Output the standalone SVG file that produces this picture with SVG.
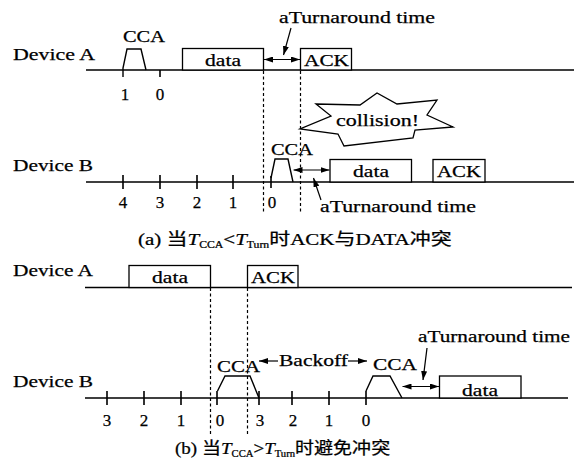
<svg xmlns="http://www.w3.org/2000/svg" width="580" height="462" viewBox="0 0 580 462">
<style>
.t{font-family:"Liberation Serif","Noto Sans CJK SC",serif;font-size:17px;fill:#000;stroke:#000;stroke-width:0.25}
.n{font-family:"Liberation Serif",serif;font-size:17px;fill:#000;stroke:#000;stroke-width:0.25;text-anchor:middle}
.ln{stroke:#000;stroke-width:1.6;fill:none}
.bx{stroke:#000;stroke-width:1.3;fill:#fff}
.pl{stroke:#000;stroke-width:1.4;fill:none;stroke-linejoin:miter}
.ds{stroke:#000;stroke-width:1.2;stroke-dasharray:3 2.5;fill:none}
.ar{stroke:#000;stroke-width:1.2;fill:none}
</style>
<defs>
<marker id="ah" viewBox="0 0 9 6" refX="9" refY="3" markerWidth="9" markerHeight="6" markerUnits="userSpaceOnUse" orient="auto-start-reverse"><path d="M0,0 L9,3 L0,6 z" fill="#000"/></marker>
</defs>

<!-- timelines and ticks -->
<g id="timelines">
<path class="ln" d="M86,70H574 M86,182H574 M85,287.5H572 M85,398H568"/>
<path class="ln" d="M160,70V77 M123,175V189 M160,175V189 M197,175V189 M233,175V189 M271,176V188
M107,391V405 M144,391V405 M181,391V405 M217,391V405 M259,391V405 M292,391V405 M329,391V405 M366,391V405"/>
</g>

<g id="dashes">
<path class="ds" d="M263.5,71V212 M300.5,71V212 M210.5,288V435 M247.5,288V434"/>
</g>

<!-- (a) -->
<g id="a-devA-label"><text class="t" x="13" y="60" textLength="82" lengthAdjust="spacingAndGlyphs">Device A</text></g>
<g id="a-A-cca">
<path class="pl" d="M123,77V68L127,49H141L146,70"/>
<text class="t" x="123" y="41.5" textLength="42" lengthAdjust="spacingAndGlyphs">CCA</text>
<text class="n" x="125" y="100">1</text>
<text class="n" x="160" y="100">0</text>
</g>
<g id="a-A-data"><rect class="bx" x="182.5" y="48.5" width="81" height="21.5"/><text class="t" x="205" y="66" textLength="36" lengthAdjust="spacingAndGlyphs">data</text></g>
<g id="a-A-ack"><rect class="bx" x="300.5" y="48.5" width="51" height="21.5"/><text class="t" x="304" y="65.5" textLength="45" lengthAdjust="spacingAndGlyphs">ACK</text></g>
<g id="a-turn-top"><text class="t" x="279" y="22.5" textLength="156" lengthAdjust="spacingAndGlyphs">aTurnaround time</text></g>
<g id="a-collision">
<polygon class="bx" points="316,104 360,105 377,93 397,104 437,100 427,115 453,127 415,130 413,138 344,146 338,134 300,129 331,116"/>
<text class="t" x="336" y="126" textLength="83" lengthAdjust="spacingAndGlyphs">collision!</text>
</g>
<g id="a-devB-label"><text class="t" x="13" y="171" textLength="80" lengthAdjust="spacingAndGlyphs">Device B</text></g>
<g id="a-B-nums">
<text class="n" x="123" y="208">4</text><text class="n" x="160" y="208">3</text><text class="n" x="197" y="208">2</text><text class="n" x="233" y="208">1</text><text class="n" x="272" y="208">0</text>
</g>
<g id="a-B-cca">
<path class="pl" d="M271,178L275,159H288L293,182"/>
<text class="t" x="271" y="155" textLength="42" lengthAdjust="spacingAndGlyphs">CCA</text>
</g>
<g id="a-B-data"><rect class="bx" x="330" y="159.5" width="81.5" height="22.5"/><text class="t" x="353" y="177" textLength="36" lengthAdjust="spacingAndGlyphs">data</text></g>
<g id="a-B-ack"><rect class="bx" x="433" y="159.5" width="52" height="22.5"/><text class="t" x="437" y="177" textLength="44" lengthAdjust="spacingAndGlyphs">ACK</text></g>
<g id="a-turn-bot"><text class="t" x="320" y="211.5" textLength="156" lengthAdjust="spacingAndGlyphs">aTurnaround time</text></g>
<g id="cap-a">
<text class="t" transform="translate(138,245) scale(1.235,1)">(a) 当<tspan font-style="italic">T</tspan><tspan font-size="9.5" dy="2.5">CCA</tspan><tspan dy="-2.5">&lt;</tspan><tspan font-style="italic">T</tspan><tspan font-size="9.5" dy="2.5">Turn</tspan><tspan dy="-2.5">时ACK与DATA冲突</tspan></text>
</g>

<!-- (b) -->
<g id="b-devA-label"><text class="t" x="13" y="276" textLength="80" lengthAdjust="spacingAndGlyphs">Device A</text></g>
<g id="b-A-data"><rect class="bx" x="129" y="265.5" width="81.5" height="22"/><text class="t" x="152" y="283" textLength="36" lengthAdjust="spacingAndGlyphs">data</text></g>
<g id="b-A-ack"><rect class="bx" x="247.5" y="265.5" width="50.5" height="22"/><text class="t" x="251" y="283" textLength="44" lengthAdjust="spacingAndGlyphs">ACK</text></g>
<g id="b-devB-label"><text class="t" x="13" y="387" textLength="80" lengthAdjust="spacingAndGlyphs">Device B</text></g>
<g id="b-B-cca1">
<path class="pl" d="M217.5,391L225,376H250L259,398"/>
<text class="t" x="217" y="372" textLength="43" lengthAdjust="spacingAndGlyphs">CCA</text>
</g>
<g id="b-backoff"><text class="t" x="279" y="366" textLength="69" lengthAdjust="spacingAndGlyphs">Backoff</text></g>
<g id="b-B-cca2">
<path class="pl" d="M366,391L373,376H390L402,398"/>
<text class="t" x="373" y="370" textLength="44" lengthAdjust="spacingAndGlyphs">CCA</text>
</g>
<g id="b-turn"><text class="t" x="418" y="342" textLength="152" lengthAdjust="spacingAndGlyphs">aTurnaround time</text></g>
<g id="b-B-data"><rect class="bx" x="439.5" y="376" width="81.5" height="22"/><text class="t" x="462" y="396" textLength="36" lengthAdjust="spacingAndGlyphs">data</text></g>
<g id="b-B-nums">
<text class="n" x="107" y="426">3</text><text class="n" x="144" y="426">2</text><text class="n" x="181" y="426">1</text><text class="n" x="220" y="426">0</text><text class="n" x="260" y="426">3</text><text class="n" x="293" y="426">2</text><text class="n" x="329" y="426">1</text><text class="n" x="366" y="426">0</text>
</g>
<g id="cap-b">
<text class="t" transform="translate(175,454) scale(1.12,1)">(b) 当<tspan font-style="italic">T</tspan><tspan font-size="9.5" dy="2.5">CCA</tspan><tspan dy="-2.5">&gt;</tspan><tspan font-style="italic">T</tspan><tspan font-size="9.5" dy="2.5">Turn</tspan><tspan dy="-2.5">时避免冲突</tspan></text>
</g>

<!-- connectors -->
<g id="connectors">
<path class="ar" d="M264,59.5H300" marker-start="url(#ah)" marker-end="url(#ah)"/>
<path class="ar" d="M291,28L283.5,55" marker-end="url(#ah)"/>
<path class="ar" d="M293.5,170H329.5" marker-start="url(#ah)" marker-end="url(#ah)"/>
<path class="ar" d="M321,200L313.5,178" marker-end="url(#ah)"/>
<path class="ar" d="M278,361H259" marker-end="url(#ah)"/>
<path class="ar" d="M348,361H367" marker-end="url(#ah)"/>
<path class="ar" d="M402.5,386.5H439" marker-start="url(#ah)" marker-end="url(#ah)"/>
<path class="ar" d="M427,348L423,380" marker-end="url(#ah)"/>
</g>
</svg>
